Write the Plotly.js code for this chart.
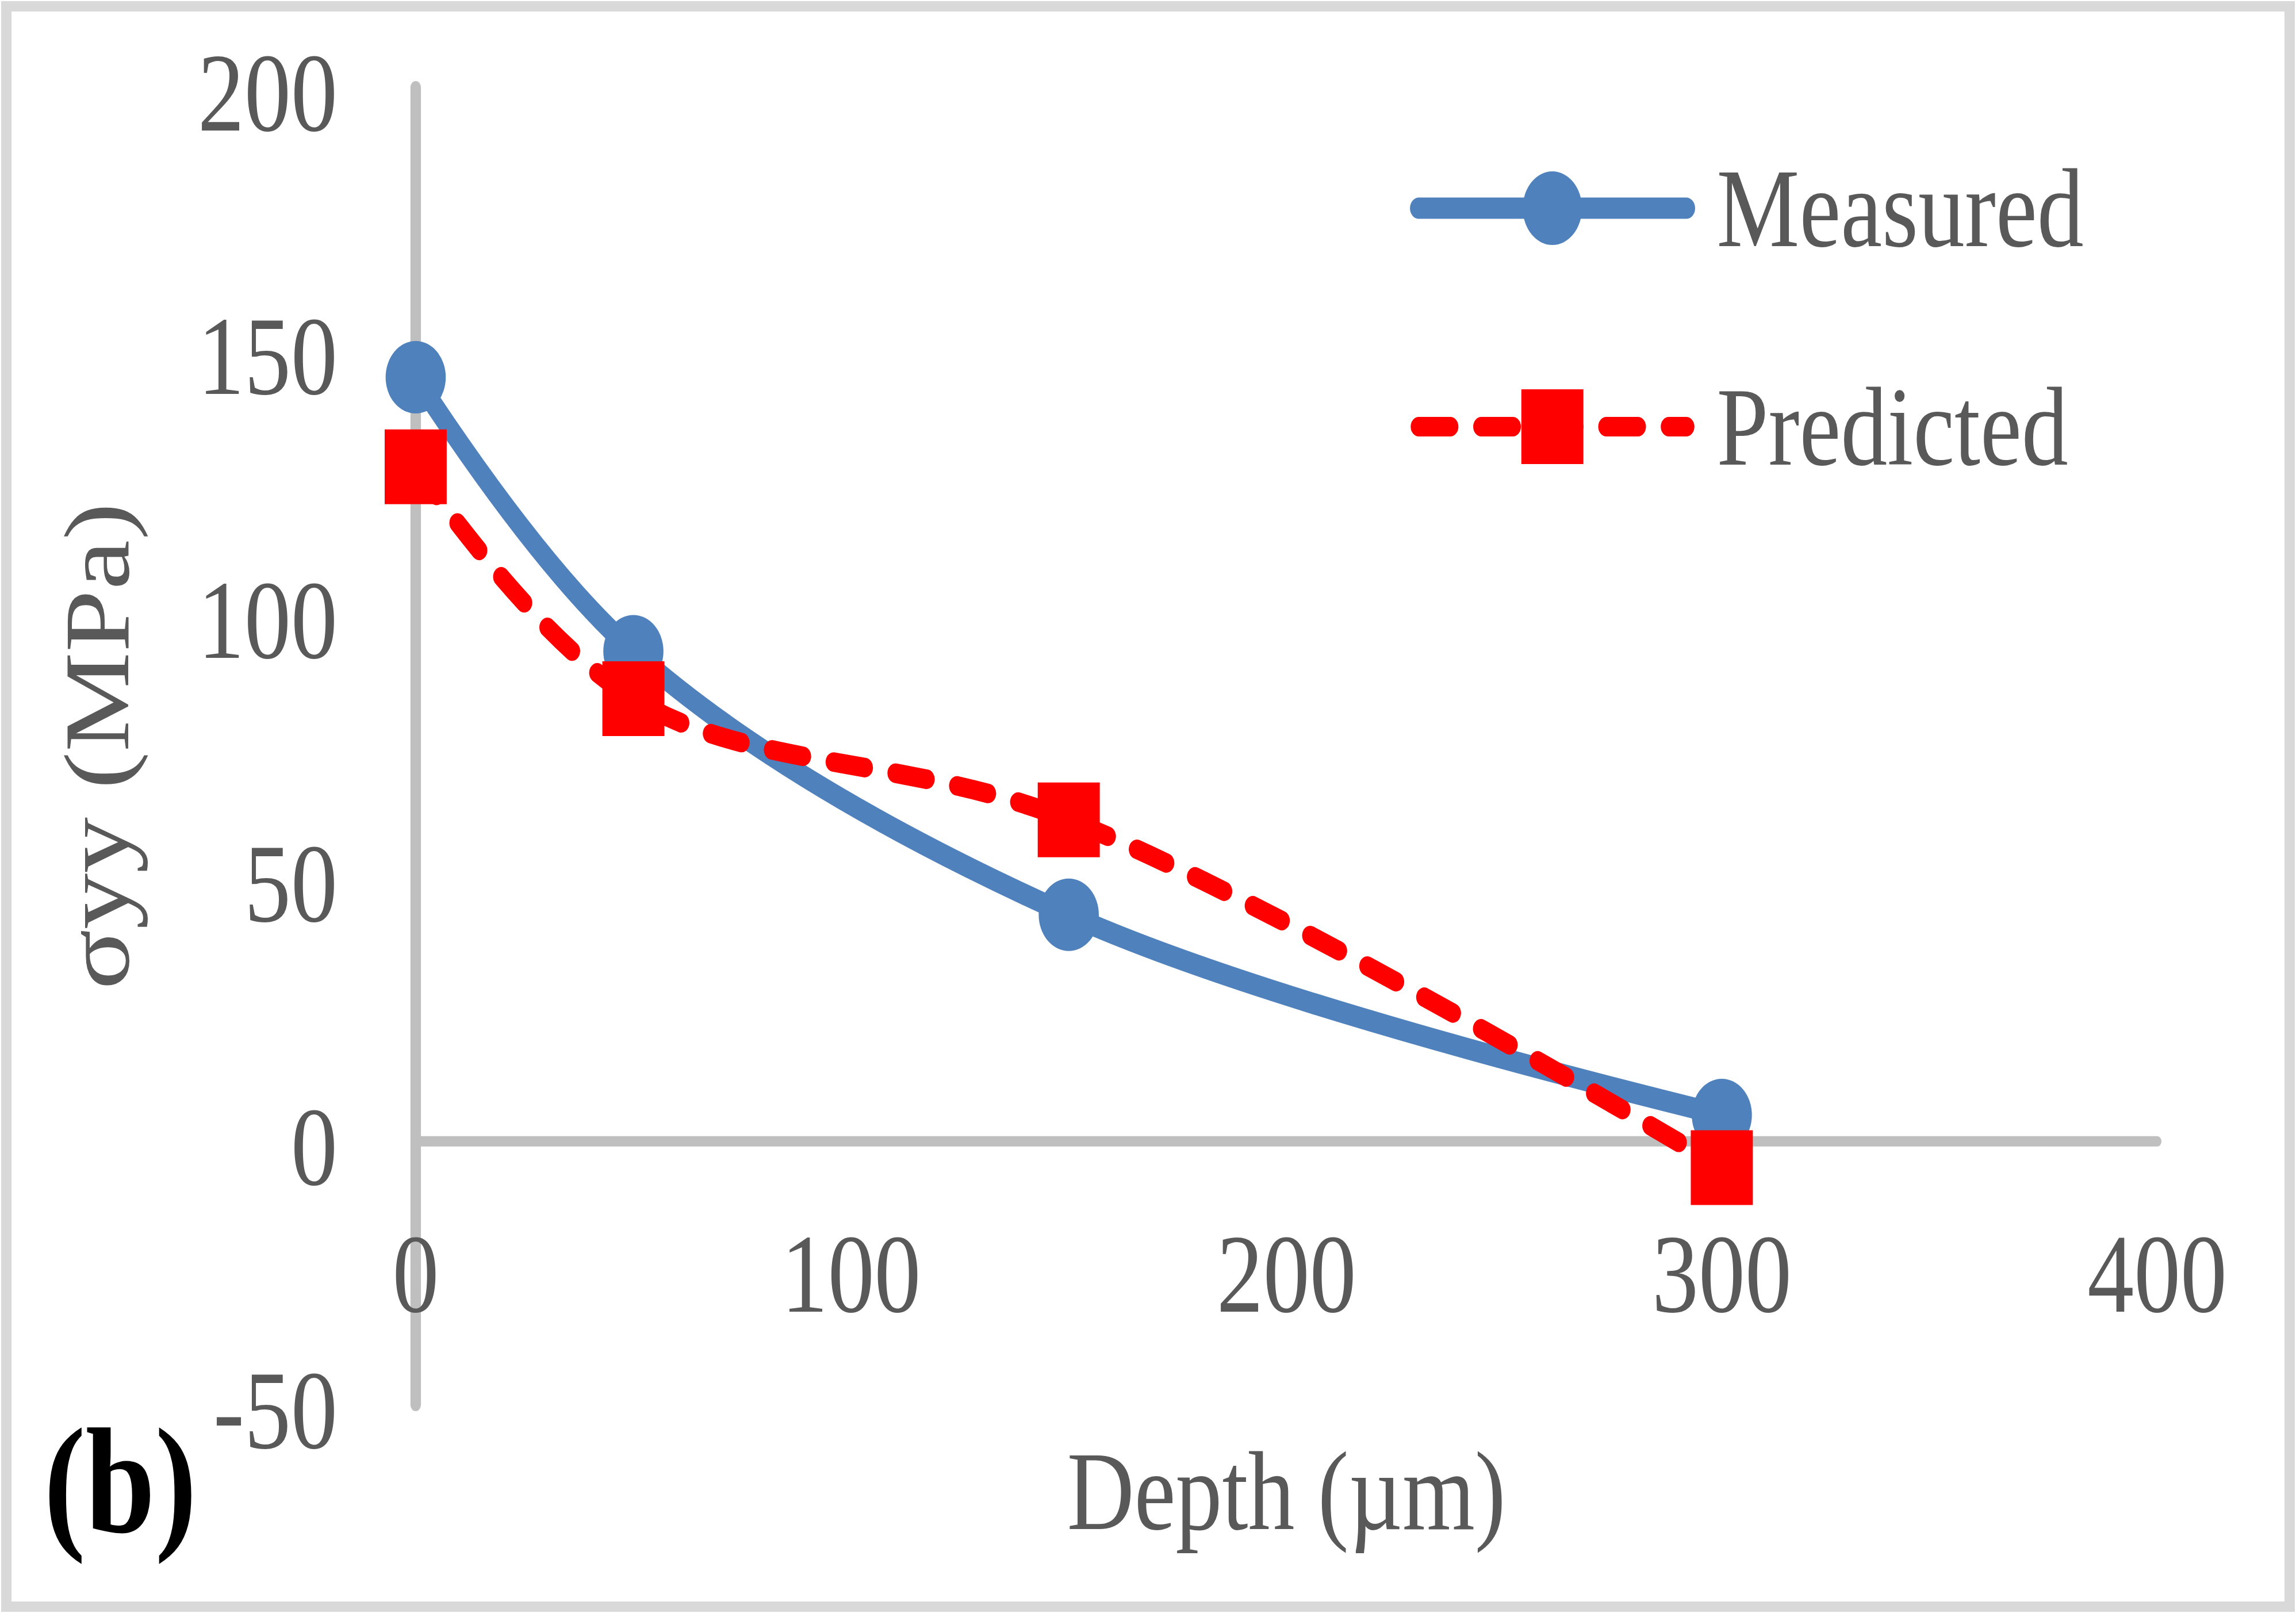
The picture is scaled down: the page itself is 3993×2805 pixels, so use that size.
<!DOCTYPE html>
<html>
<head>
<meta charset="utf-8">
<script src="https://cdn.plot.ly/plotly-3.0.1.min.js"></script>
<style>
  html, body { margin: 0; padding: 0; background: #fff; overflow: hidden; }
  /* the source figure is squeezed sideways, so draw wide and compress */
  #chart { width: 4811px; height: 2805px; transform: scaleX(0.83); transform-origin: 0 0; }
  #frame { position: absolute; left: 2px; top: 2px; width: 3989px; height: 2801px;
           box-sizing: border-box; border: 18px solid #d9d9d9; pointer-events: none; }
  #chart .js-line, #chart .shapelayer path { stroke-linecap: round; }
</style>
</head>
<body>
<div id="chart"></div>
<div id="frame"></div>
<script>
// depth below surface (um) and stress values (MPa)
var depth = [0, 50, 150, 300];
var measured = [145, 93, 43, 5];
var predicted = [128, 84, 61, -5];

var xTicks = [0, 100, 200, 300, 400];
var xTickText = ['0', '100', '200', '300', '400'];
var yTicks = [-50, 0, 50, 100, 150, 200];
var yTickText = ['-50', '0', '50', '100', '150', '200'];

var seriesNames = ['Measured', 'Predicted'];

var blue = '#4f81bd';
var red = '#ff0000';
var textGrey = '#595959';
var axisGrey = '#bfbfbf';
var serif = '"Liberation Serif", "Times New Roman", serif';
var fs = 195;

var traces = [
    {
        x: depth, y: measured, name: seriesNames[0],
        mode: 'lines+markers', cliponaxis: false,
        line: {color: blue, width: 37, shape: 'spline', smoothing: 1},
        marker: {symbol: 'circle', size: 126, color: blue, line: {width: 0}}
    },
    {
        x: depth, y: predicted, name: seriesNames[1],
        mode: 'lines+markers', cliponaxis: false,
        line: {color: red, width: 34, dash: '66px,65px', shape: 'spline', smoothing: 1},
        marker: {symbol: 'square', size: 130, color: red, line: {width: 0}}
    }
];

var tickFont = {family: serif, size: fs, color: textGrey};

var shapes = [
    // axis lines crossing at the origin
    {type: 'line', layer: 'below', xref: 'paper', yref: 'paper', x0: 0, x1: 0, y0: 0, y1: 1,
     line: {color: axisGrey, width: 22}},
    {type: 'line', layer: 'below', xref: 'paper', yref: 'y', x0: 0, x1: 1, y0: 0, y1: 0,
     line: {color: axisGrey, width: 18}},
    // legend samples
    {type: 'line', xref: 'paper', yref: 'paper', x0: 0.576, x1: 0.7296, y0: 0.9083, y1: 0.9083,
     line: {color: blue, width: 37}},
    {type: 'circle', xref: 'paper', yref: 'paper', xsizemode: 'pixel', ysizemode: 'pixel',
     xanchor: 0.6527, yanchor: 0.9083, x0: -62, x1: 62, y0: -64, y1: 64,
     fillcolor: blue, line: {width: 0}},
    {type: 'line', xref: 'paper', yref: 'paper', x0: 0.576, x1: 0.7296, y0: 0.7425, y1: 0.7425,
     line: {color: red, width: 34, dash: '66px,65px'}},
    {type: 'rect', xref: 'paper', yref: 'paper', xsizemode: 'pixel', ysizemode: 'pixel',
     xanchor: 0.6527, yanchor: 0.7425, x0: -65, x1: 65, y0: -65, y1: 65,
     fillcolor: red, line: {width: 0}}
];

var annotations = [
    {text: seriesNames[0], xref: 'paper', yref: 'paper', x: 0.7466, y: 0.9083,
     xanchor: 'left', yanchor: 'middle', showarrow: false, font: tickFont},
    {text: seriesNames[1], xref: 'paper', yref: 'paper', x: 0.7466, y: 0.7425,
     xanchor: 'left', yanchor: 'middle', showarrow: false, font: tickFont},
    {text: '(b)', xref: 'paper', yref: 'paper', x: -0.1695, y: -0.058,
     xanchor: 'center', yanchor: 'middle', showarrow: false,
     font: {family: serif, size: 262, color: '#000000', weight: 'bold'}}
];

var layout = {
    width: 4811, height: 2805,
    margin: {l: 871, r: 291, t: 152, b: 362, pad: 0},
    paper_bgcolor: '#ffffff', plot_bgcolor: '#ffffff',
    showlegend: false,
    xaxis: {
        range: [0, 400], tickvals: xTicks, ticktext: xTickText,
        anchor: 'free', position: 0.2,
        showline: false, zeroline: false, showgrid: false,
        ticks: 'outside', ticklen: 61, tickcolor: 'rgba(0,0,0,0)',
        tickfont: tickFont, automargin: false,
        title: {text: 'Depth (µm)', font: tickFont, standoff: 200}
    },
    yaxis: {
        range: [-50, 200], tickvals: yTicks, ticktext: yTickText,
        showline: false, zeroline: false, showgrid: false,
        ticks: 'outside', ticklen: 124, tickcolor: 'rgba(0,0,0,0)',
        ticklabelshift: 7,
        tickfont: tickFont, automargin: false,
        title: {text: 'σyy (MPa)', font: tickFont, standoff: 78}
    },
    shapes: shapes,
    annotations: annotations
};

Plotly.newPlot('chart', traces, layout, {displayModeBar: false, staticPlot: true});
</script>
</body>
</html>
